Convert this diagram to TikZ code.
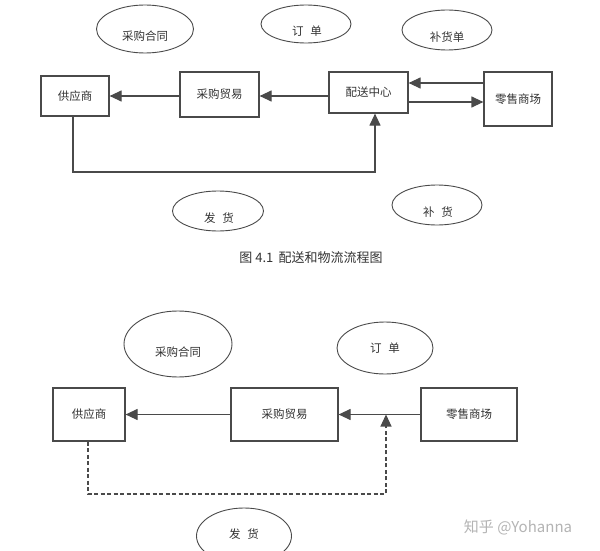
\documentclass[tikz,border=0pt]{standalone}
\usepackage{fontspec}
\setmainfont{Noto Sans CJK SC}
\newfontfamily\cjk{Noto Sans CJK SC}
\usetikzlibrary{arrows.meta,shapes.geometric}
\definecolor{ln}{HTML}{4A4A4A}
\definecolor{tx}{HTML}{333333}
\definecolor{wm}{HTML}{B4B4B4}
\tikzset{
  box/.style={draw=ln, line width=1.2pt, rectangle, inner sep=0pt, text=tx, font=\cjk\fontsize{11.5}{13}\selectfont},
  oval/.style={draw=ln, line width=0.9pt, ellipse, inner sep=0pt},
  lbl/.style={text=tx, inner sep=0pt, font=\cjk\fontsize{11.5}{13}\selectfont},
  conn/.style={draw=ln, line width=1.2pt},
  arr/.style={conn, -{Triangle[length=12pt,width=11pt]}},
  darr/.style={arr, dash pattern=on 4pt off 2.5pt}
}
\begin{document}
\begin{tikzpicture}[x=1pt,y=-1pt]
\useasboundingbox (0,0) rectangle (600,551);
\clip (0,0) rectangle (600,551);
\fill[white] (0,0) rectangle (600,551);
% ---------- top diagram ----------
\node[oval, minimum width=97, minimum height=48] (e1) at (145,29) {};
\node[lbl] (t1) at (145,36) {采购合同};
\node[oval, minimum width=90, minimum height=38] (e2) at (306,24) {};
\node[lbl] (t2) at (307,31) {订\hspace{0.6em}单};
\node[oval, minimum width=90, minimum height=40] (e3) at (447,30) {};
\node[lbl] (t3) at (447,37) {补货单};
\node[box, minimum width=68, minimum height=40] (sup1) at (75,96) {供应商};
\node[box, minimum width=79, minimum height=45] (cg1) at (219.5,94.5) {采购贸易};
\node[box, minimum width=79, minimum height=41] (ps1) at (368.5,92.5) {配送中心};
\node[box, minimum width=68, minimum height=54] (ls1) at (518,99) {零售商场};
\draw[arr] (cg1.west |- 0,96) -- (sup1.east |- 0,96);
\draw[arr] (ps1.west |- 0,96) -- (cg1.east |- 0,96);
\draw[arr] (ls1.west |- 0,83) -- (ps1.east |- 0,83);
\draw[arr] (ps1.east |- 0,102) -- (ls1.west |- 0,102);
\coordinate (b1) at (73,172);
\coordinate (b2) at (375,172);
\draw[arr] (sup1.south -| b1) -- (b1) -- (b2) -- (ps1.south -| b2);
\node[oval, minimum width=91, minimum height=40] (e4) at (218,211) {};
\node[lbl] (t4) at (219,218) {发\hspace{0.6em}货};
\node[oval, minimum width=90, minimum height=40] (e5) at (437,205) {};
\node[lbl] (t5) at (438,212) {补\hspace{0.6em}货};
\node[text=tx, inner sep=0pt, font=\cjk\fontsize{13}{15}\selectfont] (cap) at (311,258) {图 4.1\hspace{0.4em}配送和物流流程图};
% ---------- bottom diagram ----------
\node[oval, minimum width=108, minimum height=66] (e6) at (178,344) {};
\node[lbl] (t6) at (178,352) {采购合同};
\node[oval, minimum width=96, minimum height=52] (e7) at (385,348) {};
\node[lbl] (t7) at (385,348) {订\hspace{0.6em}单};
\node[box, minimum width=72, minimum height=53] (sup2) at (89,414.5) {供应商};
\node[box, minimum width=107, minimum height=53] (cg2) at (284.5,414.5) {采购贸易};
\node[box, minimum width=96, minimum height=53] (ls2) at (469,414.5) {零售商场};
\draw[arr] (cg2.west) -- (sup2.east);
\draw[arr] (ls2.west) -- (cg2.east);
\coordinate (c1) at (88,494);
\coordinate (c2) at (386,494);
\coordinate (c3) at (386,414.5);
\draw[darr] (sup2.south -| c1) -- (c1) -- (c2) -- (c3);
\node[oval, minimum width=95, minimum height=56] (e8) at (244,536) {};
\node[lbl] (t8) at (244,534) {发\hspace{0.6em}货};
\node[text=wm, inner sep=0pt, font=\cjk\fontsize{15}{17}\selectfont] (wmk) at (518,527) {知乎 @Yohanna};
\end{tikzpicture}
\end{document}
